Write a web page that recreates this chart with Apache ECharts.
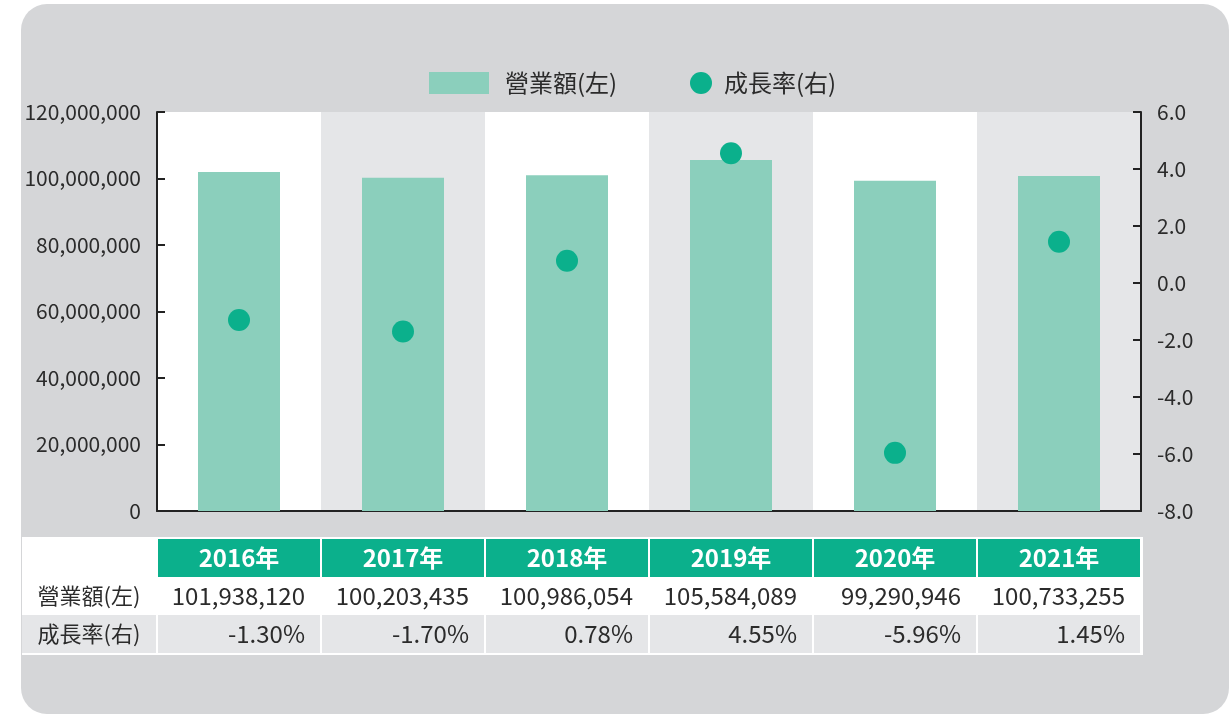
<!DOCTYPE html>
<html>
<head>
<meta charset="utf-8">
<script src="https://cdn.jsdelivr.net/npm/echarts@6/dist/echarts.min.js"></script>
<style>
  html, body { margin: 0; padding: 0; background: #ffffff; }
  #chart { width: 1229px; height: 714px; }
</style>
</head>
<body>
<div id="chart"></div>
<script>
// Yearly revenue (left axis) and growth rate in % (right axis)
const years = ['2016年', '2017年', '2018年', '2019年', '2020年', '2021年'];
const revenue = [101938120, 100203435, 100986054, 105584089, 99290946, 100733255];
const growth = [-1.30, -1.70, 0.78, 4.55, -5.96, 1.45];
const seriesNames = ['營業額(左)', '成長率(右)'];
const leftAxisRange = { min: 0, max: 120000000, interval: 20000000 };
const rightAxisRange = { min: -8, max: 6, interval: 2 };

const FONT = '"Noto Sans CJK TC", "Noto Sans CJK JP", "Noto Sans", sans-serif';
const INK = '#2b2b2b';
const BAR = '#8bcfbc';
const DOT = '#0bb08c';
const PANEL = '#d5d6d8';
const STRIPE = '#e5e6e8';

const chart = echarts.init(document.getElementById('chart'), null, { renderer: 'canvas' });

const axisLineStyle = { color: '#222222', width: 2 };

const option = {
  backgroundColor: '#ffffff',
  textStyle: { fontFamily: FONT },
  legend: [
    {
      data: [{ name: seriesNames[0], icon: 'rect' }],
      left: 424, top: 66,
      itemWidth: 60, itemHeight: 22, itemGap: 0,
      textStyle: { fontSize: 24, color: INK, fontFamily: FONT, padding: [0, 0, 0, 11] },
      selectedMode: false
    },
    {
      data: [{ name: seriesNames[1], icon: 'circle' }],
      left: 685, top: 66,
      itemWidth: 22, itemHeight: 22, itemGap: 0,
      textStyle: { fontSize: 24, color: INK, fontFamily: FONT, padding: [0, 0, 0, 7] },
      selectedMode: false
    }
  ],
  grid: { left: 157, right: 88, top: 112, bottom: 203, show: false },
  xAxis: {
    type: 'category',
    data: years,
    boundaryGap: true,
    axisLine: { lineStyle: axisLineStyle },
    axisTick: { inside: true, length: 8, lineStyle: axisLineStyle },
    axisLabel: { show: false },
    splitArea: { show: true, areaStyle: { color: ['#ffffff', STRIPE] } }
  },
  yAxis: [
    {
      type: 'value',
      min: leftAxisRange.min, max: leftAxisRange.max, interval: leftAxisRange.interval,
      axisLine: { show: true, lineStyle: axisLineStyle },
      axisTick: { show: true, inside: true, length: 8, lineStyle: axisLineStyle },
      splitLine: { show: false },
      axisLabel: {
        color: INK, fontSize: 21, fontFamily: FONT, margin: 16,
        formatter: v => v.toLocaleString('en-US')
      }
    },
    {
      type: 'value',
      min: rightAxisRange.min, max: rightAxisRange.max, interval: rightAxisRange.interval,
      position: 'right',
      axisLine: { show: true, lineStyle: axisLineStyle },
      axisTick: { show: true, inside: true, length: 8, lineStyle: axisLineStyle },
      splitLine: { show: false },
      axisLabel: {
        color: INK, fontSize: 21, fontFamily: FONT, margin: 16,
        formatter: v => v.toFixed(1)
      }
    }
  ],
  series: [
    {
      name: seriesNames[0],
      type: 'bar',
      yAxisIndex: 0,
      data: revenue,
      barWidth: 82,
      itemStyle: { color: BAR },
      emphasis: { disabled: true }
    },
    {
      name: seriesNames[1],
      type: 'scatter',
      yAxisIndex: 1,
      data: growth,
      symbol: 'circle',
      symbolSize: 22,
      itemStyle: { color: DOT, opacity: 1 },
      z: 5,
      emphasis: { disabled: true }
    }
  ],
  graphic: [
    {
      type: 'rect', id: 'panel', z: -100, silent: true,
      shape: { x: 21, y: 4, width: 1208, height: 710, r: 26 },
      style: { fill: PANEL }
    }
  ]
};

chart.setOption(option);

// Data table under the plot, aligned to the category bands
function buildTable() {
  const centers = years.map(y => chart.convertToPixel({ xAxisIndex: 0 }, y));
  const band = centers[1] - centers[0];
  const firstEdge = centers[0] - band / 2;
  const lastEdge = centers[centers.length - 1] + band / 2;

  const tableTop = 537;
  const rowH = 38;
  const headerY = tableTop + 2;
  const row1Y = headerY + rowH;
  const row2Y = row1Y + rowH;
  const tableLeft = 22;

  const els = [];
  // white table body
  els.push({
    type: 'rect', z: 10, silent: true,
    shape: { x: tableLeft, y: tableTop, width: lastEdge + 2 - tableLeft, height: rowH * 3 + 4 },
    style: { fill: '#ffffff' }
  });
  // growth row label cell
  els.push({
    type: 'rect', z: 11, silent: true,
    shape: { x: tableLeft, y: row2Y, width: firstEdge - 1 - tableLeft, height: rowH },
    style: { fill: STRIPE }
  });
  const labelCx = (tableLeft + firstEdge - 1) / 2;
  [row1Y, row2Y].forEach((ry, k) => {
    els.push({
      type: 'text', z: 12, silent: true,
      style: {
        x: labelCx, y: ry + rowH / 2, text: seriesNames[k],
        fill: INK, font: '22px ' + FONT, align: 'center', verticalAlign: 'middle'
      }
    });
  });

  years.forEach((yr, i) => {
    const x0 = centers[i] - band / 2 + 1;
    const w = band - 2;
    els.push({
      type: 'rect', z: 11, silent: true,
      shape: { x: x0, y: headerY, width: w, height: rowH },
      style: { fill: DOT }
    });
    els.push({
      type: 'text', z: 12, silent: true,
      style: {
        x: centers[i], y: headerY + rowH / 2, text: yr,
        fill: '#ffffff', font: 'bold 24px ' + FONT, align: 'center', verticalAlign: 'middle'
      }
    });
    els.push({
      type: 'text', z: 12, silent: true,
      style: {
        x: x0 + w - 15, y: row1Y + rowH / 2, text: revenue[i].toLocaleString('en-US'),
        fill: INK, font: '24px ' + FONT, align: 'right', verticalAlign: 'middle'
      }
    });
    els.push({
      type: 'rect', z: 11, silent: true,
      shape: { x: x0, y: row2Y, width: w, height: rowH },
      style: { fill: STRIPE }
    });
    els.push({
      type: 'text', z: 12, silent: true,
      style: {
        x: x0 + w - 15, y: row2Y + rowH / 2, text: growth[i].toFixed(2) + '%',
        fill: INK, font: '24px ' + FONT, align: 'right', verticalAlign: 'middle'
      }
    });
  });

  chart.setOption({ graphic: option.graphic.concat(els) });
}

buildTable();
</script>
</body>
</html>
